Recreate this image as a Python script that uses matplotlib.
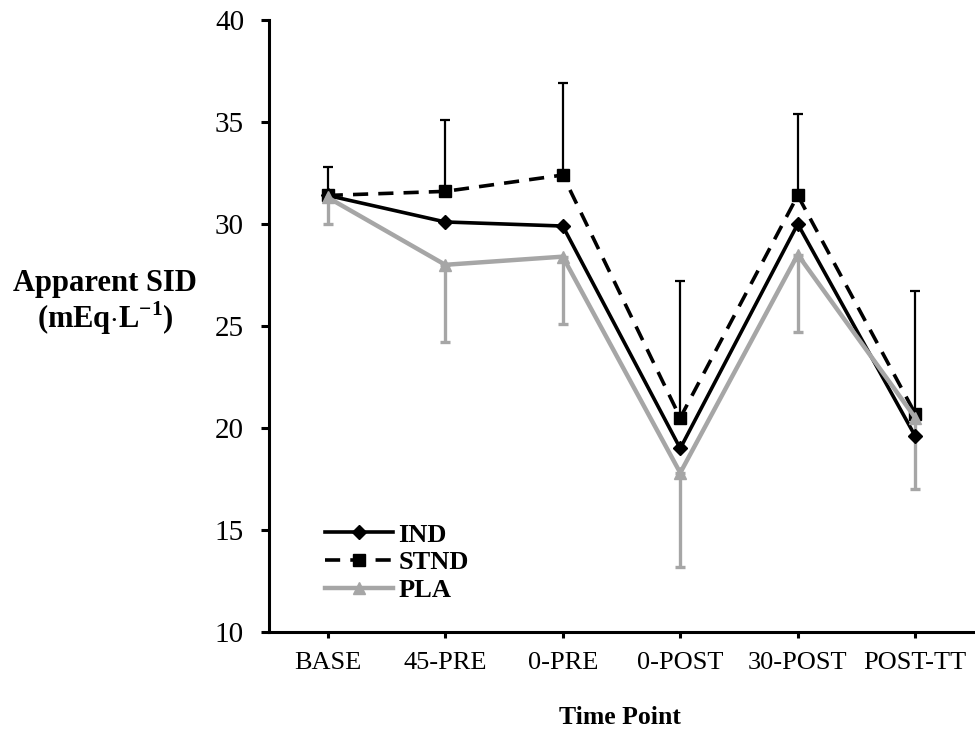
import matplotlib
matplotlib.use("Agg")
import matplotlib.pyplot as plt
import numpy as np

categories = ["BASE", "45-PRE", "0-PRE", "0-POST", "30-POST", "POST-TT"]
ind = [31.4, 30.1, 29.9, 19.0, 30.0, 19.6]
stnd = [31.4, 31.6, 32.4, 20.5, 31.4, 20.7]
pla = [31.3, 28.0, 28.4, 17.8, 28.5, 20.5]
stnd_upper = [32.8, 35.1, 36.9, 27.2, 35.4, 26.7]
pla_lower = [30.0, 24.2, 25.1, 13.2, 24.7, 17.0]

plt.rcParams['font.family'] = ['Liberation Serif', 'DejaVu Serif']
plt.rcParams['mathtext.fontset'] = 'custom'
plt.rcParams['mathtext.rm'] = 'Liberation Serif'
plt.rcParams['mathtext.bf'] = 'Liberation Serif:bold'

fig = plt.figure(figsize=(9.75, 7.36), dpi=100)
ax = fig.add_axes([269/975, 104/736, 705/975, 612/736])

x = np.arange(len(categories))
gray = "#a6a6a6"

stnd_err = np.array(stnd_upper) - np.array(stnd)
pla_err = np.array(pla) - np.array(pla_lower)

ax.errorbar(x, stnd, yerr=[np.zeros_like(stnd_err), stnd_err], fmt='none',
            ecolor='black', elinewidth=1.6, capsize=3.5, capthick=1.6, zorder=1)
ax.errorbar(x, pla, yerr=[pla_err, np.zeros_like(pla_err)], fmt='none',
            ecolor=gray, elinewidth=2.4, capsize=3.5, capthick=2.4, zorder=1)

ax.plot(x, ind, color='black', lw=2.6, marker='D', markersize=7, label='IND', zorder=3)
ax.plot(x, stnd, color='black', lw=2.6, ls=(0, (4.2, 2.8)), marker='s', markersize=9,
        label='STND', zorder=3)
ax.plot(x, pla, color=gray, lw=3.2, marker='^', markersize=9, label='PLA', zorder=4)

ax.set_xlim(-0.5, 5.5)
ax.set_ylim(10, 40)
ax.set_yticks([10, 15, 20, 25, 30, 35, 40])
ax.set_xticks(x)
ax.set_xticklabels(categories)

for s in ['top', 'right']:
    ax.spines[s].set_visible(False)
for s in ['left', 'bottom']:
    ax.spines[s].set_linewidth(2.2)
ax.tick_params(axis='both', direction='out', width=2.2)
ax.tick_params(axis='y', length=6, pad=12, labelsize=21)
ax.tick_params(axis='x', length=4.5, pad=10, labelsize=19)

fig.text(105/975, 1 - 283/736, "Apparent SID", ha='center', va='center',
         fontsize=22, fontweight='bold')
fig.text(105/975, 1 - 318/736, r"(mEq$\cdot$L$^{\mathbf{-1}}$)", ha='center', va='center',
         fontsize=22, fontweight='bold')
fig.text(620/975, 1 - 718/736, "Time Point", ha='center', va='center',
         fontsize=18.5, fontweight='bold')

leg = ax.legend(loc='upper left', bbox_to_anchor=(0.079, 0.178), frameon=False,
                prop={'weight': 'bold', 'size': 19}, handlelength=2.6,
                handletextpad=0.2, labelspacing=0.17, borderpad=0, borderaxespad=0)

fig.savefig("out.png", dpi=100)
